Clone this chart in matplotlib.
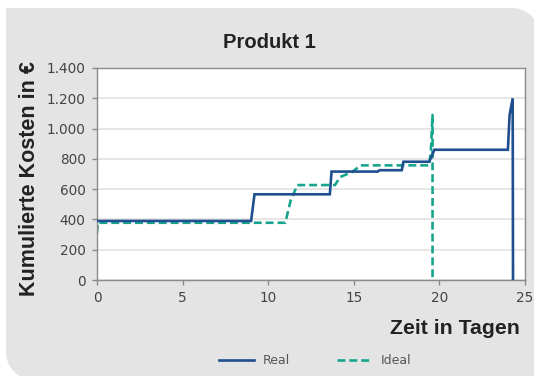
import numpy as np
import matplotlib
matplotlib.use("Agg")
import matplotlib.pyplot as plt
from matplotlib.path import Path
from matplotlib.patches import PathPatch

plt.rcParams['font.family'] = ['Liberation Sans', 'DejaVu Sans']

# Kumulierte Kosten, real (Stufen)
real_tage = [0, 9.0, 9.2, 13.6, 13.7, 16.4, 16.5, 17.8, 17.9, 19.4, 19.6, 19.7,
             24.0, 24.1, 24.28, 24.3]
real_kosten = [390, 390, 566, 566, 716, 716, 725, 725, 781, 781, 830, 860,
               860, 1090, 1200, 0]

# Kumulierte Kosten, ideal
ideal_tage = [0, 0.05, 11.0, 11.3, 11.7, 13.9, 14.2, 14.9, 15.4, 19.4, 19.5, 19.6, 19.6]
ideal_kosten = [310, 378, 378, 520, 627, 627, 680, 713, 757, 757, 850, 1090, 0]

x_ticks = [0, 5, 10, 15, 20, 25]
y_ticks = [0, 200, 400, 600, 800, 1000, 1200, 1400]
y_labels = ["0", "200", "400", "600", "800", "1.000", "1.200", "1.400"]

W, H = 534, 376
fig = plt.figure(figsize=(W / 100, H / 100), dpi=100)
fig.patch.set_facecolor("white")


# grauer Hintergrund mit runden Ecken (oben rechts, unten links)
def bogen(cx, cy, r, a0, a1, n=20):
    t = np.linspace(np.radians(a0), np.radians(a1), n)
    return list(zip(cx + r * np.cos(t), cy + r * np.sin(t)))


left, right, top, bottom = 6, 540, H - 8, -4
r = 28
pts = [(left, top), (right - r, top)]
pts += bogen(right - r, top - r, r, 90, 0)
pts += [(right, bottom), (left + r, bottom)]
pts += bogen(left + r, bottom + r, r, 270, 180)
pts += [(left, top)]
pts = [(px / W, py / H) for px, py in pts]
hg = PathPatch(Path(pts), transform=fig.transFigure, facecolor="#e4e4e4",
               edgecolor="none", zorder=-10)
fig.add_artist(hg)

ax = fig.add_axes([97 / W, 1 - 280 / H, 428 / W, 212 / H])
ax.set_zorder(1)
ax.set_facecolor("white")
ax.plot(real_tage, real_kosten, color="#1f4f8f", lw=1.9, label="Real",
        solid_joinstyle="miter", zorder=3)
ax.plot(ideal_tage, ideal_kosten, color="#17a58d", lw=1.9, ls=(0, (3, 1.5)),
        label="Ideal", zorder=2)

ax.set_xlim(0, 25)
ax.set_ylim(0, 1400)
ax.set_xticks(x_ticks)
ax.set_yticks(y_ticks)
ax.set_yticklabels(y_labels)
ax.yaxis.grid(True, color="#e2e2e2", lw=1.2)
ax.set_axisbelow(True)
for s in ax.spines.values():
    s.set_color("#8a8a8a")
    s.set_linewidth(1.0)
ax.tick_params(axis="both", length=3.6, width=1, color="#8a8a8a",
               labelsize=9.8, labelcolor="#444444", direction="out", pad=4.5)
for lbl in ax.get_xticklabels() + ax.get_yticklabels():
    lbl.set_family("DejaVu Sans")

fig.text(269 / W, 1 - 42 / H, "Produkt 1", ha="center", va="center",
         fontsize=14.5, fontweight="bold", color="#222222")
fig.text(30 / W, 1 - 179 / H, "Kumulierte Kosten in €", ha="center", va="center",
         rotation=90, fontsize=15.5, fontweight="bold", color="#222222")
fig.text(520 / W, 1 - 328 / H, "Zeit in Tagen", ha="right", va="center",
         fontsize=15.3, fontweight="bold", color="#222222")

lg = fig.legend(loc="center", bbox_to_anchor=(315 / W, 1 - 361 / H), ncol=2,
                frameon=False, prop={"family": "DejaVu Sans", "size": 9},
                handlelength=2.8, columnspacing=3.8, handletextpad=0.7)
for t in lg.get_texts():
    t.set_color("#555555")

fig.savefig("out.png", dpi=100)
